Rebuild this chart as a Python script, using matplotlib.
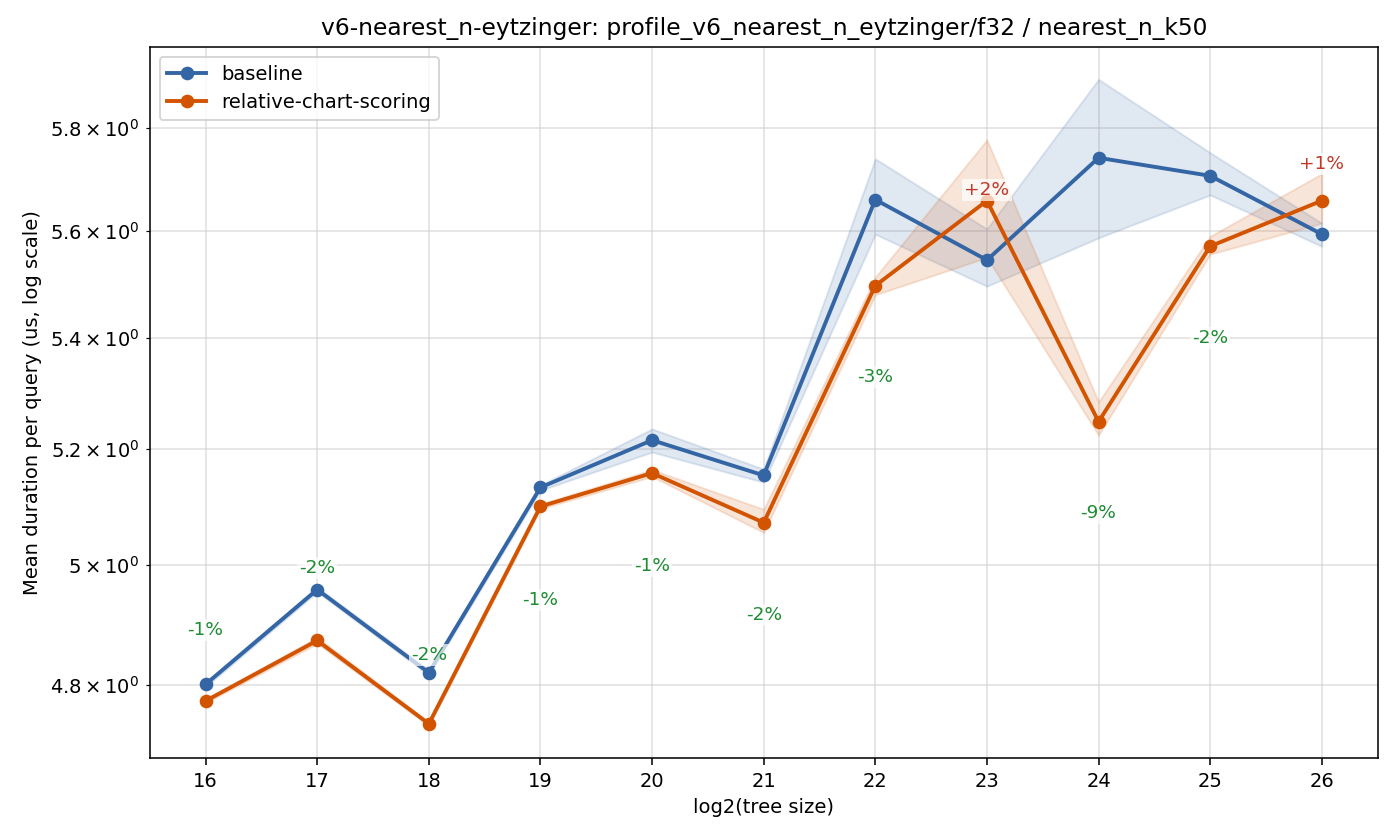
import matplotlib
matplotlib.use("Agg")
import matplotlib.pyplot as plt

# log2 of tree size
sizes = [16, 17, 18, 19, 20, 21, 22, 23, 24, 25, 26]

# mean duration per query (us)
baseline = [4.801, 4.958, 4.820, 5.133, 5.216, 5.154, 5.660, 5.545, 5.741, 5.706, 5.594]
baseline_lo = [4.797, 4.954, 4.816, 5.128, 5.195, 5.142, 5.594, 5.496, 5.587, 5.669, 5.571]
baseline_hi = [4.805, 4.962, 4.824, 5.137, 5.236, 5.165, 5.739, 5.604, 5.896, 5.751, 5.615]

relative = [4.774, 4.873, 4.737, 5.100, 5.158, 5.072, 5.497, 5.658, 5.249, 5.571, 5.658]
relative_lo = [4.771, 4.868, 4.734, 5.096, 5.152, 5.055, 5.480, 5.550, 5.225, 5.556, 5.615]
relative_hi = [4.777, 4.878, 4.740, 5.104, 5.164, 5.095, 5.513, 5.776, 5.284, 5.590, 5.710]

# where the % change labels sit (data units)
label_y = [4.891, 4.995, 4.849, 4.941, 4.998, 4.916, 5.329, 5.679, 5.089, 5.400, 5.729]

blue = "#3465a4"
orange = "#d35400"

fig, ax = plt.subplots(figsize=(10, 6), dpi=140)
fig.subplots_adjust(left=0.107, right=0.984, top=0.944, bottom=0.0976)

ax.fill_between(sizes, baseline_lo, baseline_hi, color=blue, alpha=0.15)
ax.plot(sizes, baseline, "-o", color=blue, lw=2, ms=6, label="baseline")
ax.fill_between(sizes, relative_lo, relative_hi, color=orange, alpha=0.15)
ax.plot(sizes, relative, "-o", color=orange, lw=2, ms=6, label="relative-chart-scoring")

ax.set_yscale("log")

for x, b, r, ly in zip(sizes, baseline, relative, label_y):
    pct = (r / b - 1) * 100
    col = "#c0392b" if pct > 0 else "#1e8c32"
    ax.text(x, ly, "{:+.0f}%".format(pct), color=col, fontsize=9.5,
            ha="center", va="center",
            bbox=dict(facecolor="white", edgecolor="none", alpha=0.7, pad=1))

ax.set_xticks(sizes)
ax.grid(True, which="both", color="#cccccc", alpha=0.5, lw=1)
ax.set_axisbelow(True)
ax.set_xlabel("log2(tree size)")
ax.set_ylabel("Mean duration per query (us, log scale)")
ax.set_title("v6-nearest_n-eytzinger: profile_v6_nearest_n_eytzinger/f32 / nearest_n_k50")
ax.legend(loc="upper left")

plt.savefig("out.png")
